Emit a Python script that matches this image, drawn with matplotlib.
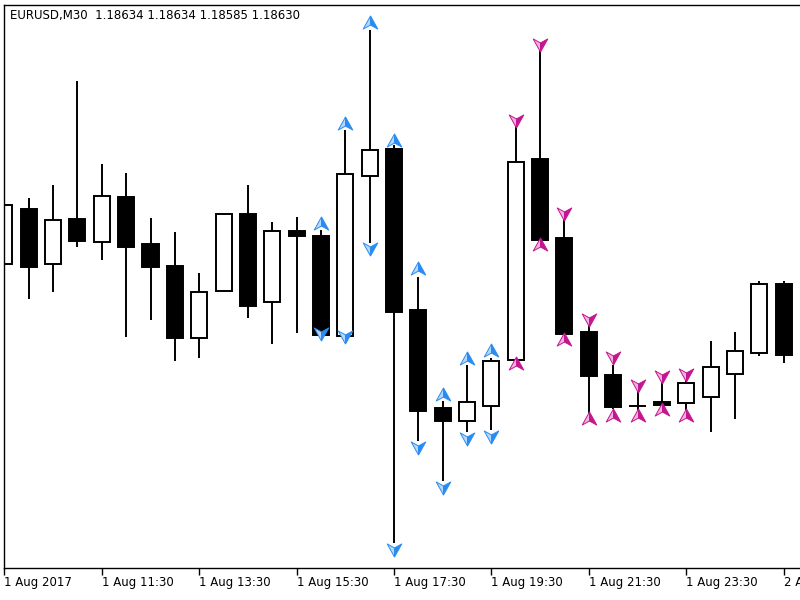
import numpy as np
import matplotlib
matplotlib.use("Agg")
import matplotlib.pyplot as plt
from matplotlib.path import Path

# --- DATA (EURUSD M30, 1 Aug 2017 09:30 ...) ---
opens = [1.18725, 1.18780, 1.18725, 1.18770, 1.18747, 1.18792, 1.18745, 1.18723, 1.18651,
         1.18698, 1.18775, 1.18687, 1.18758, 1.18753, 1.18653, 1.18813, 1.18840, 1.18679,
         1.18581, 1.18568, 1.18583, 1.18629, 1.18830, 1.18751, 1.18657, 1.18614, 1.18583,
         1.18587, 1.18586, 1.18592, 1.18615, 1.18636, 1.18705]
highs = [1.18784, 1.18791, 1.18804, 1.18908, 1.18825, 1.18816, 1.18771, 1.18757, 1.18716,
         1.18775, 1.18804, 1.18767, 1.18772, 1.18759, 1.18859, 1.18959, 1.18844, 1.18712,
         1.18588, 1.18624, 1.18631, 1.18864, 1.18944, 1.18773, 1.18666, 1.18624, 1.18599,
         1.18608, 1.18614, 1.18648, 1.18657, 1.18708, 1.18708]
lows = [1.18725, 1.18690, 1.18697, 1.18742, 1.18729, 1.18652, 1.18669, 1.18628, 1.18631,
        1.18697, 1.18671, 1.18645, 1.18656, 1.18654, 1.18653, 1.18746, 1.18446, 1.18548,
        1.18508, 1.18557, 1.18559, 1.18629, 1.18748, 1.18654, 1.18576, 1.18580, 1.18579,
        1.18579, 1.18579, 1.18557, 1.18570, 1.18633, 1.18626]
closes = [1.18784, 1.18722, 1.18769, 1.18748, 1.18793, 1.18742, 1.18722, 1.18651, 1.18697,
          1.18775, 1.18683, 1.18758, 1.18753, 1.18654, 1.18815, 1.18839, 1.18677, 1.18578,
          1.18568, 1.18587, 1.18628, 1.18827, 1.18749, 1.18655, 1.18613, 1.18582, 1.18583,
          1.18584, 1.18606, 1.18622, 1.18638, 1.18705, 1.18634]

# indicator buffers (blue = up phase, magenta = down phase), by bar index
blue_idx = [13, 14, 15, 16, 17, 18, 19, 20]
blue_top = [1.18766, 1.18866, 1.18967, 1.18849, 1.18721, 1.18595, 1.18631, 1.18639]
blue_bot = [1.18655, 1.18652, 1.18740, 1.18439, 1.18541, 1.18501, 1.18550, 1.18552]
pink_idx = [21, 22, 23, 24, 25, 26, 27, 28]
pink_top = [1.18868, 1.18944, 1.18775, 1.18669, 1.18631, 1.18603, 1.18612, 1.18614]
pink_bot = [1.18626, 1.18745, 1.18650, 1.18571, 1.18574, 1.18574, 1.18580, 1.18574]

tick_idx = [0, 4, 8, 12, 16, 20, 24, 28, 32]
tick_labels = ["1 Aug 2017", "1 Aug 11:30", "1 Aug 13:30", "1 Aug 15:30", "1 Aug 17:30",
               "1 Aug 19:30", "1 Aug 21:30", "1 Aug 23:30", "2 Aug 01:30"]
header = "EURUSD,M30  1.18634 1.18634 1.18585 1.18630"

# --- FIGURE ---
fig = plt.figure(figsize=(8, 6), dpi=100)
ax = fig.add_axes([4.4 / 800, 32 / 600, 1 - 4.4 / 800, 563 / 600])

x = np.arange(len(opens))
o = np.array(opens)
c = np.array(closes)

# wicks
ax.vlines(x, lows, highs, color="black", linewidth=1.4, zorder=1)

# bodies
bull = c >= o
ax.bar(x, np.abs(c - o), bottom=np.minimum(o, c), width=0.66,
       color=np.where(bull, "white", "black"), edgecolor="black",
       linewidth=1.4, zorder=2)

# arrow markers (two halves to mimic the shaded metatrader arrow)
left_up = Path([(0, 0.9), (-1, -0.9), (0, -0.35), (0, 0.9)])
right_up = Path([(0, 0.9), (0, -0.35), (1, -0.9), (0, 0.9)])
left_dn = Path([(0, -0.9), (-1, 0.9), (0, 0.35), (0, -0.9)])
right_dn = Path([(0, -0.9), (0, 0.35), (1, 0.9), (0, -0.9)])


def draw_arrow(xs, ys, up, light, dark):
    halves = (left_up, right_up) if up else (left_dn, right_dn)
    ax.plot(xs, ys, linestyle="none", marker=halves[0], markersize=10.5,
            markerfacecolor=light, markeredgecolor=dark, markeredgewidth=0.7, zorder=3)
    ax.plot(xs, ys, linestyle="none", marker=halves[1], markersize=10.5,
            markerfacecolor=dark, markeredgecolor=dark, markeredgewidth=0.7, zorder=3)


draw_arrow(blue_idx, blue_top, True, "#b5d8fb", "#2a8cf0")
draw_arrow(blue_idx, blue_bot, False, "#b5d8fb", "#2a8cf0")
draw_arrow(pink_idx, pink_top, False, "#efb3dc", "#c4168f")
draw_arrow(pink_idx, pink_bot, True, "#efb3dc", "#c4168f")

# axes look
ax.set_xlim(0, (800 - 4.4) / 24.35)
ax.set_ylim(1.18421, 1.18984)
ax.spines["right"].set_visible(False)
for s in ["left", "top", "bottom"]:
    ax.spines[s].set_linewidth(1.0)
ax.set_yticks([])
ax.set_xticks(tick_idx)
ax.set_xticklabels(tick_labels, ha="left", fontsize=8.5)
ax.tick_params(axis="x", length=5, width=1.0, pad=1)

ax.text(0.007, 0.982, header, transform=ax.transAxes, ha="left", va="center", fontsize=8.5)

fig.savefig("out.png", dpi=100)
plt.close(fig)
